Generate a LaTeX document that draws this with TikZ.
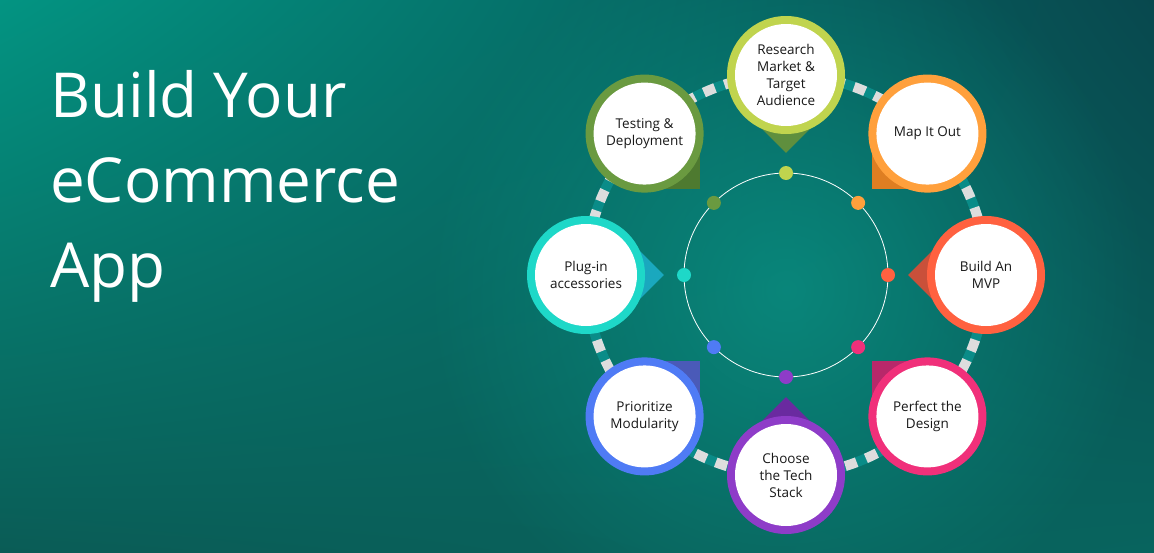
\documentclass[tikz,border=0pt]{standalone}
\usepackage{fontspec}
\setmainfont{Open Sans}
\usetikzlibrary{fadings,shadings,calc}
\definecolor{c1}{HTML}{C0D44E}\definecolor{p1}{HTML}{5F8F3E}
\definecolor{c2}{HTML}{FFA03C}\definecolor{p2}{HTML}{DE7E22}
\definecolor{c3}{HTML}{FF6140}\definecolor{p3}{HTML}{C9503A}
\definecolor{c4}{HTML}{F0307A}\definecolor{p4}{HTML}{B8286A}
\definecolor{c5}{HTML}{8E3CC8}\definecolor{p5}{HTML}{6A2AA0}
\definecolor{c6}{HTML}{4F7BF5}\definecolor{p6}{HTML}{4A5AB8}
\definecolor{c7}{HTML}{1ED8C8}\definecolor{p7}{HTML}{1AA8BE}
\definecolor{c8}{HTML}{6A9A40}\definecolor{p8}{HTML}{4E7A30}
\definecolor{ringteal}{HTML}{0A8C88}
\definecolor{ringgrey}{HTML}{DDDDDD}
\definecolor{bgul}{HTML}{039482}
\definecolor{bgur}{HTML}{08484E}
\definecolor{bgll}{HTML}{0A5C56}
\definecolor{bglr}{HTML}{08645E}
\definecolor{bgglow}{HTML}{0A9687}
\tikzfading[name=softglow,inner color=transparent!0,outer color=transparent!100]
\tikzset{
  steplabel/.style={circle,fill=white,minimum size=102pt,inner sep=0pt,align=center,
    font=\fontsize{13.5}{17}\selectfont,text=black!90},
  titletext/.style={font=\fontsize{62}{85}\selectfont,text=white,align=left,anchor=north west,inner sep=0pt},
}
\begin{document}
\begin{tikzpicture}[x=1pt,y=-1pt]
\useasboundingbox (0,0) rectangle (1154,552);
\shade[upper left=bgul,upper right=bgur,lower left=bgll,lower right=bglr]
  (0,0) rectangle (1154,552);
\fill[bgglow,path fading=softglow,opacity=0.7]
  (786,290) circle (360);
\node[titletext] (title) at (50,70) {Build Your\\eCommerce\\App};
\coordinate (ctr) at (786,275);
\draw[ringteal,line width=10pt] (ctr) circle (200);
\draw[ringgrey,line width=10pt,dash pattern=on 12pt off 10pt] (ctr) circle (200);
\draw[white,line width=0.8pt] (ctr) circle (102);
\foreach \a/\c/\p/\t [count=\i] in {
  90/c1/p1/{Research\\Market \&\\Target\\Audience},
  45/c2/p2/{Map It Out},
  0/c3/p3/{Build An\\MVP},
  -45/c4/p4/{Perfect the\\Design},
  -90/c5/p5/{Choose\\the Tech\\Stack},
  -135/c6/p6/{Prioritize\\Modularity},
  180/c7/p7/{Plug-in\\accessories},
  135/c8/p8/{Testing \&\\Deployment}}{
  \coordinate (s\i) at ($(ctr)+(\a:200 and -200)$);
  \fill[\c] ($(ctr)+(\a:102 and -102)$) circle (7);
  \begin{scope}[shift={(s\i)},rotate=\a-45]
    \fill[\p] (0,0) -- (-55,0) -- (-55,55) -- (0,55) -- cycle;
  \end{scope}
  \fill[\c] (s\i) circle (59);
  \node[steplabel] (n\i) at (s\i) {\t};
}
\end{tikzpicture}
\end{document}
